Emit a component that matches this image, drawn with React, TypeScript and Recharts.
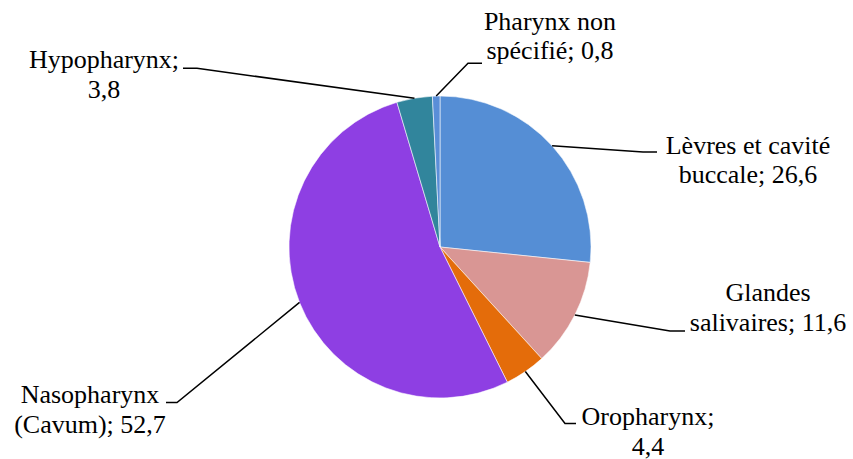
import { PieChart, Pie, Cell } from 'recharts';

const categories = [
  'Lèvres et cavité buccale',
  'Glandes salivaires',
  'Oropharynx',
  'Nasopharynx (Cavum)',
  'Hypopharynx',
  'Pharynx non spécifié',
];
const values = [26.6, 11.6, 4.4, 52.7, 3.8, 0.8];
const colors = ['#558ed5', '#d99694', '#e46c0a', '#8e3fe3', '#31859c', '#5a8ed8'];

// label placement (Excel-style best fit): elbow of the leader, end of the short
// horizontal tick, text centre and baseline of the first line, words on line 1
const labelLayout = [
  { elbow: [643, 152], end: [657, 152], tx: 748, ty: 153.5, firstWords: 3 },
  { elbow: [670, 331], end: [685, 331], tx: 768, ty: 301, firstWords: 1 },
  { elbow: [565, 423.5], end: [576, 423.5], tx: 648, ty: 425, firstWords: 1 },
  { elbow: [177, 402.5], end: [166, 402.5], tx: 90, ty: 403, firstWords: 1 },
  { elbow: [197, 68.3], end: [183, 68.3], tx: 104, ty: 68, firstWords: 1 },
  { elbow: [468, 63.3], end: [482, 63.3], tx: 550, ty: 29.5, firstWords: 2 },
];

const data = categories.map((name, i) => ({ name, value: values[i] }));

const RADIAN = Math.PI / 180;
const FONT = "'Liberation Serif', 'Times New Roman', serif";
const LINE_HEIGHT = 29.5;

function renderLabel(props: any) {
  const { cx, cy, midAngle, outerRadius, index } = props;
  const lay = labelLayout[index];
  const sx = cx + outerRadius * Math.cos(-midAngle * RADIAN);
  const sy = cy + outerRadius * Math.sin(-midAngle * RADIAN);
  const text = `${categories[index]}; ${values[index].toFixed(1).replace('.', ',')}`;
  const words = text.split(' ');
  const lines = [words.slice(0, lay.firstWords).join(' '), words.slice(lay.firstWords).join(' ')];
  return (
    <g key={`lbl-${index}`}>
      <polyline
        points={`${sx},${sy} ${lay.elbow[0]},${lay.elbow[1]} ${lay.end[0]},${lay.end[1]}`}
        fill="none"
        stroke="#000"
        strokeWidth={1.5}
      />
      {lines.map((line, j) => (
        <text
          key={j}
          x={lay.tx}
          y={lay.ty + j * LINE_HEIGHT}
          textAnchor="middle"
          style={{ fontFamily: FONT, fontSize: 26 }}
          fill="#000"
        >
          {line}
        </text>
      ))}
    </g>
  );
}

export default function App() {
  return (
    <div
      style={{
        position: 'absolute',
        left: 0,
        top: 0,
        width: 853,
        height: 459,
        background: '#fff',
        fontFamily: FONT,
      }}
    >
      <PieChart width={853} height={459} margin={{ top: 0, right: 0, bottom: 0, left: 0 }}>
        <Pie
          data={data}
          dataKey="value"
          nameKey="name"
          cx={440}
          cy={247}
          outerRadius={151}
          startAngle={90}
          endAngle={-270}
          stroke="rgba(255,255,255,0.55)"
          strokeWidth={1}
          label={renderLabel}
          labelLine={false}
          isAnimationActive={false}
        >
          {data.map((d, i) => (
            <Cell key={d.name} fill={colors[i]} />
          ))}
        </Pie>
      </PieChart>
    </div>
  );
}
